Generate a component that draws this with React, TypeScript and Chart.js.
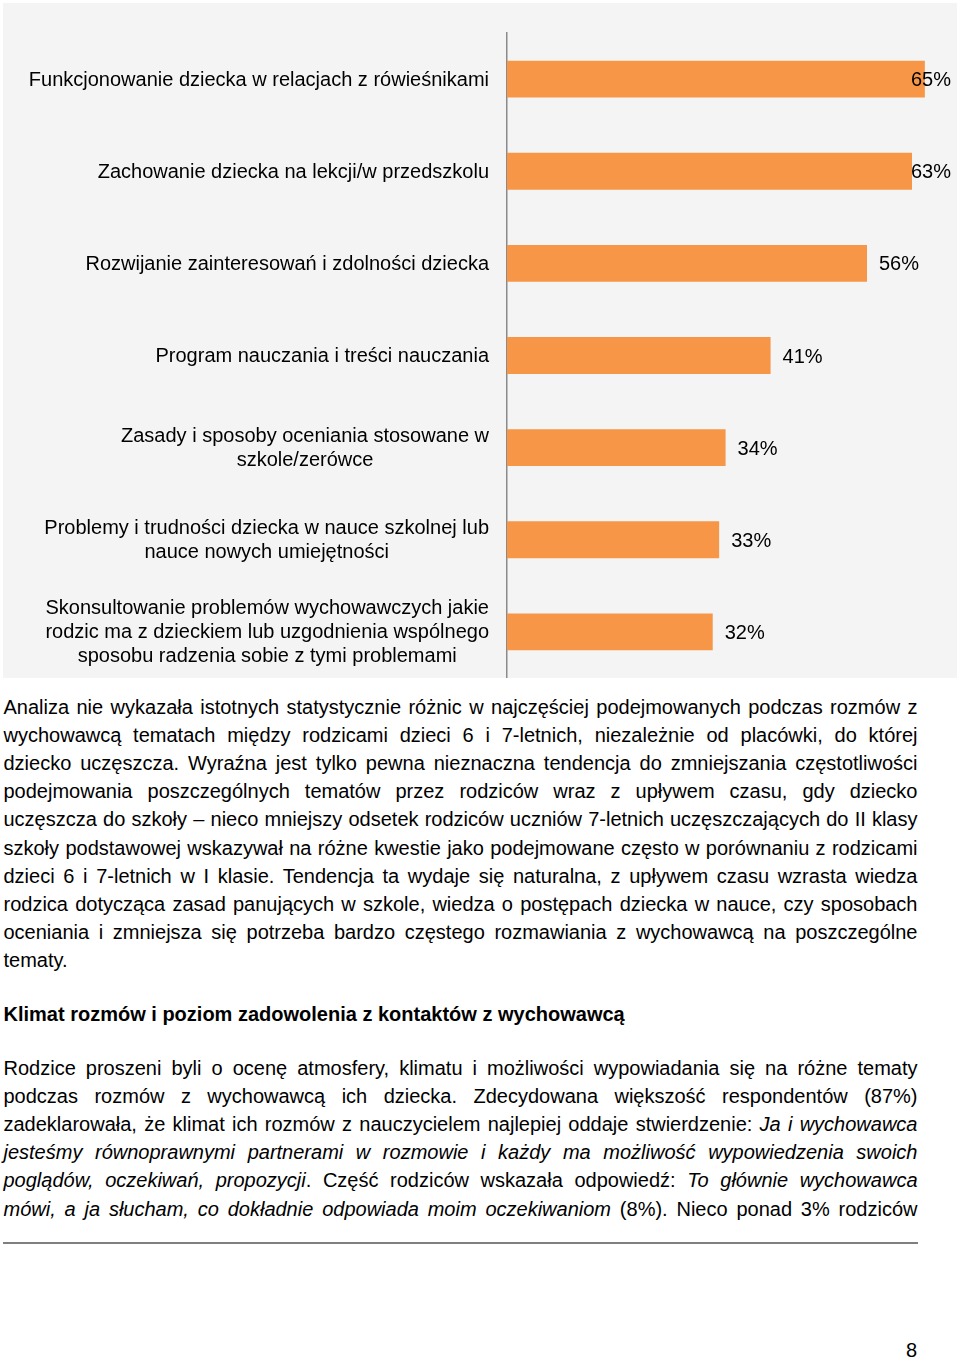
import React, { useEffect, useRef } from "react";
import { Chart, registerables } from "chart.js";

Chart.register(...registerables);

const categories: string[][] = [
  ["Funkcjonowanie dziecka w relacjach z rówieśnikami"],
  ["Zachowanie dziecka na lekcji/w przedszkolu"],
  ["Rozwijanie zainteresowań i zdolności dziecka"],
  ["Program nauczania i treści nauczania"],
  ["Zasady i sposoby oceniania stosowane w", "szkole/zerówce"],
  ["Problemy i trudności dziecka w nauce szkolnej lub", "nauce nowych umiejętności"],
  ["Skonsultowanie problemów wychowawczych jakie", "rodzic ma z dzieckiem lub uzgodnienia wspólnego", "sposobu radzenia sobie z tymi problemami"],
];
const values: number[] = [65, 63, 56, 41, 34, 33, 32];
const axisMax = 70;

const FONT = '"Liberation Sans", Arial, sans-serif';
const BAR_COLOR = "#F79646";

const para1: string[] = [
  "Analiza nie wykazała istotnych statystycznie różnic w najczęściej podejmowanych podczas rozmów z",
  "wychowawcą tematach między rodzicami dzieci 6 i 7-letnich, niezależnie od placówki, do której",
  "dziecko uczęszcza. Wyraźna jest tylko pewna nieznaczna tendencja do zmniejszania częstotliwości",
  "podejmowania poszczególnych tematów przez rodziców wraz z upływem czasu, gdy dziecko",
  "uczęszcza do szkoły – nieco mniejszy odsetek rodziców uczniów 7-letnich uczęszczających do II klasy",
  "szkoły podstawowej wskazywał na różne kwestie jako podejmowane często w porównaniu z rodzicami",
  "dzieci 6 i 7-letnich w I klasie. Tendencja ta wydaje się naturalna, z upływem czasu wzrasta wiedza",
  "rodzica dotycząca zasad panujących w szkole, wiedza o postępach dziecka w nauce, czy sposobach",
  "oceniania i zmniejsza się potrzeba bardzo częstego rozmawiania z wychowawcą na poszczególne",
  "tematy.",
];

const heading = "Klimat rozmów i poziom zadowolenia z kontaktów z wychowawcą";

// segments: [text, italic]
const para2: [string, boolean][][] = [
  [["Rodzice proszeni byli o ocenę atmosfery, klimatu i możliwości wypowiadania się na różne tematy", false]],
  [["podczas rozmów z wychowawcą ich dziecka. Zdecydowana większość respondentów (87%)", false]],
  [["zadeklarowała, że klimat ich rozmów z nauczycielem najlepiej oddaje stwierdzenie: ", false], ["Ja i wychowawca", true]],
  [["jesteśmy równoprawnymi partnerami w rozmowie i każdy ma możliwość wypowiedzenia swoich", true]],
  [["poglądów, oczekiwań, propozycji", true], [". Część rodziców wskazała odpowiedź: ", false], ["To głównie wychowawca", true]],
  [["mówi, a ja słucham, co dokładnie odpowiada moim oczekiwaniom", true], [" (8%). Nieco ponad 3% rodziców", false]],
];

const TEXT_SIZE = 20;
const LINE_H = 28.2;
const TEXT_LEFT = 3.5;
const TEXT_WIDTH = 914;
const BASE_OFF = 21; // baseline offset inside a line box

function ChartBox() {
  const ref = useRef<HTMLCanvasElement | null>(null);
  useEffect(() => {
    if (!ref.current) return;
    const labelPlugin = {
      id: "labelsPlugin",
      afterDatasetsDraw(chart: any) {
        const ctx = chart.ctx;
        const xs = chart.scales.x;
        const ys = chart.scales.y;
        const area = chart.chartArea;
        ctx.save();
        ctx.font = `20px ${FONT}`;
        ctx.fillStyle = "#000";
        ctx.textBaseline = "alphabetic";
        // category labels
        categories.forEach((lines, i) => {
          const y = ys.getPixelForValue(i);
          let maxW = 0;
          lines.forEach((l) => (maxW = Math.max(maxW, ctx.measureText(l).width)));
          const cx = area.left - 18 - maxW / 2;
          ctx.textAlign = "center";
          lines.forEach((l, j) => {
            ctx.fillText(l, cx, y + 6.5 + (j - (lines.length - 1) / 2) * 24);
          });
        });
        // value labels
        values.forEach((v, i) => {
          const y = ys.getPixelForValue(i);
          const txt = `${v}%`;
          const tw = ctx.measureText(txt).width;
          let x = xs.getPixelForValue(v) + 12;
          if (x + tw > area.right - 6) x = area.right - 6 - tw;
          ctx.textAlign = "left";
          ctx.fillText(txt, x, y + 7);
        });
        ctx.restore();
      },
    };
    const chart = new Chart(ref.current, {
      type: "bar",
      data: {
        labels: categories.map((c) => c.join(" ")),
        datasets: [
          {
            data: values,
            backgroundColor: BAR_COLOR,
            borderWidth: 0,
            barPercentage: 0.4,
            categoryPercentage: 1,
          },
        ],
      },
      options: {
        indexAxis: "y",
        responsive: false,
        animation: false,
        layout: { padding: { top: 30, bottom: 0, left: 0, right: 0 } },
        plugins: { legend: { display: false }, tooltip: { enabled: false } },
        scales: {
          x: { display: false, min: 0, max: axisMax },
          y: {
            grid: { display: false, drawTicks: false },
            border: { display: true, color: "#8a8a8a", width: 1.5 },
            ticks: { display: false },
            afterFit: (s: any) => {
              s.width = 504;
            },
          },
        },
      },
      plugins: [labelPlugin],
    } as any);
    return () => chart.destroy();
  }, []);
  return (
    <div style={{ position: "absolute", left: 3, top: 3, width: 954, height: 675, background: "#f4f4f4" }}>
      <canvas ref={ref} width={954} height={675} style={{ width: 954, height: 675, display: "block" }} />
    </div>
  );
}

function Line({ baseline, children, last, bold }: { baseline: number; children: React.ReactNode; last?: boolean; bold?: boolean }) {
  return (
    <div
      style={{
        position: "absolute",
        left: TEXT_LEFT,
        top: baseline - BASE_OFF,
        width: TEXT_WIDTH,
        height: LINE_H,
        lineHeight: `${LINE_H}px`,
        fontSize: TEXT_SIZE,
        fontWeight: bold ? "bold" : "normal",
        textAlign: last ? "left" : "justify",
        textAlignLast: last ? "left" : "justify",
        whiteSpace: "nowrap",
        color: "#000",
      } as any}
    >
      {children}
    </div>
  );
}

export default function App() {
  return (
    <div
      style={{
        position: "absolute",
        left: 0,
        top: 0,
        width: 960,
        height: 1359,
        background: "#fff",
        fontFamily: FONT,
        overflow: "hidden",
      }}
    >
      <ChartBox />
      {para1.map((l, i) => (
        <Line key={"p1" + i} baseline={713.5 + i * LINE_H} last={i === para1.length - 1}>
          {l}
        </Line>
      ))}
      <Line baseline={1020.5} last bold>
        {heading}
      </Line>
      {para2.map((segs, i) => (
        <Line key={"p2" + i} baseline={1074.5 + i * LINE_H}>
          {segs.map(([t, it], j) => (
            <span key={j} style={{ fontStyle: it ? "italic" : "normal" }}>
              {t}
            </span>
          ))}
        </Line>
      ))}
      <div style={{ position: "absolute", left: 3, top: 1242, width: 915, height: 2, background: "#7f7f7f" }} />
      <div style={{ position: "absolute", left: 906, top: 1357 - BASE_OFF, lineHeight: `${LINE_H}px`, fontSize: 20, color: "#000" }}>8</div>
    </div>
  );
}
